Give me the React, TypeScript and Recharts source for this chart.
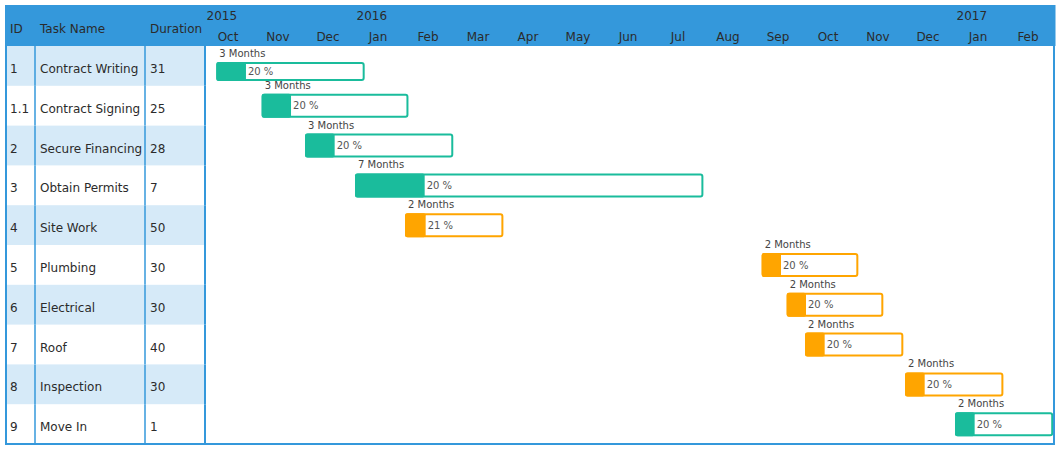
import React from 'react';
import { BarChart, Bar, XAxis, YAxis } from 'recharts';

// table columns
const taskIds = ['1', '1.1', '2', '3', '4', '5', '6', '7', '8', '9'];
const taskNames = [
  'Contract Writing', 'Contract Signing', 'Secure Financing', 'Obtain Permits', 'Site Work',
  'Plumbing', 'Electrical', 'Roof', 'Inspection', 'Move In',
];
const durations = [31, 25, 28, 7, 50, 30, 30, 40, 30, 1];

// timeline
const startDates = [
  '2015-10-08', '2015-11-05', '2015-12-01', '2016-01-01', '2016-02-01',
  '2016-09-05', '2016-09-20', '2016-10-01', '2016-12-01', '2017-01-01',
];
const endDates = [
  '2016-01-07', '2016-02-03', '2016-02-29', '2016-07-31', '2016-03-31',
  '2016-11-03', '2016-11-18', '2016-11-30', '2017-01-31', '2017-02-28',
];
const progress = [20, 20, 20, 20, 21, 20, 20, 20, 20, 20];
const spanMonths = [3, 3, 3, 7, 2, 2, 2, 2, 2, 2];
const phases = ['office', 'office', 'office', 'office', 'site', 'site', 'site', 'site', 'site', 'office'];

const monthLabels = ['Oct', 'Nov', 'Dec', 'Jan', 'Feb', 'Mar', 'Apr', 'May', 'Jun', 'Jul', 'Aug', 'Sep', 'Oct', 'Nov', 'Dec', 'Jan', 'Feb'];
const yearLabels = ['2015', '2016', '2017'];
const yearStartMonth = [0, 3, 15];
const columnHeaders = ['ID', 'Task Name', 'Duration'];

// timeline starts at October 2015
const ORIGIN_YEAR = 2015;
const ORIGIN_MONTH = 10;

const toMonths = (s: string) => {
  const [y, m, d] = s.split('-').map(Number);
  const dim = new Date(Date.UTC(y, m, 0)).getUTCDate();
  return (y - ORIGIN_YEAR) * 12 + (m - ORIGIN_MONTH) + (d - 1) / dim;
};

const rows = taskIds.map((id, i) => ({
  id,
  name: taskNames[i],
  duration: durations[i],
  span: [toMonths(startDates[i]), toMonths(endDates[i])],
  progress: progress[i],
  months: spanMonths[i],
  phase: phases[i],
}));

// layout / style
const W = 1060;
const H = 450;
const M = { top: 6, right: 5, bottom: 6, left: 6 };
const Y_AXIS_W = 199;
const X_AXIS_H = 40;
const PLOT_W = W - M.left - M.right - Y_AXIS_W;
const PLOT_H = H - M.top - M.bottom - X_AXIS_H;
const TABLE_LEFT = M.left;
const TABLE_RIGHT = M.left + Y_AXIS_W;
const HEADER_TOP = 5;
const HEADER_BOTTOM = M.top + X_AXIS_H;
const COL_TEXT_X = [10, 40, 150];
const COL_LINE_X = [35, 145];
const LABEL_GAP = 5; // baseline of "N Months" above the bar
const LABEL_H = 11;

const BLUE = '#3498db';
const STRIPE = '#d6eaf8';
const TEXT = '#2b2b2b';
const FONT = "'DejaVu Sans', Verdana, sans-serif";
const PHASE_COLORS: Record<string, string> = { office: '#1abc9c', site: '#ffa500' };

function TableTick(props: any) {
  const { y, index } = props;
  const band = PLOT_H / taskIds.length;
  const top = y - band / 2;
  const row = rows[index];
  return (
    <g>
      {index === 0 && (
        <g>
          <rect x={TABLE_LEFT - 1} y={HEADER_TOP} width={Y_AXIS_W + 1} height={HEADER_BOTTOM - HEADER_TOP} fill={BLUE} />
          {columnHeaders.map((h, c) => (
            <text key={h} x={COL_TEXT_X[c]} y={33} fontSize={12} fill={TEXT} fontFamily={FONT}>{h}</text>
          ))}
        </g>
      )}
      {index % 2 === 0 && <rect x={TABLE_LEFT + 1} y={top} width={Y_AXIS_W - 2} height={band} fill={STRIPE} />}
      {COL_LINE_X.map((lx) => (
        <line key={lx} x1={lx} x2={lx} y1={top} y2={top + band} stroke={BLUE} strokeWidth={1.5} />
      ))}
      <line x1={TABLE_RIGHT} x2={TABLE_RIGHT} y1={top} y2={top + band} stroke={BLUE} strokeWidth={2} />
      <text x={COL_TEXT_X[0]} y={y + 7} fontSize={12} fill={TEXT} fontFamily={FONT}>{row.id}</text>
      <text x={COL_TEXT_X[1]} y={y + 7} fontSize={12} fill={TEXT} fontFamily={FONT}>{row.name}</text>
      <text x={COL_TEXT_X[2]} y={y + 7} fontSize={12} fill={TEXT} fontFamily={FONT}>{row.duration}</text>
    </g>
  );
}

function MonthTick(props: any) {
  const { x, index } = props;
  const cellW = PLOT_W / monthLabels.length;
  const left = x - cellW / 2;
  const yi = yearStartMonth.indexOf(index);
  return (
    <g>
      <rect x={left} y={HEADER_TOP} width={cellW + 0.5} height={HEADER_BOTTOM - HEADER_TOP} fill={BLUE} />
      {yi >= 0 && (
        <text x={left + 1.5} y={20} fontSize={12} fill={TEXT} fontFamily={FONT}>{yearLabels[yi]}</text>
      )}
      <text x={x - 2} y={41} fontSize={12} fill={TEXT} fontFamily={FONT} textAnchor="middle">{monthLabels[index]}</text>
    </g>
  );
}

function GanttBar(props: any) {
  const { x, width, payload } = props;
  let { y, height } = props;
  // keep the "N Months" label clear of the header: push the bar down and shrink it
  const minTop = HEADER_BOTTOM + LABEL_H + LABEL_GAP;
  if (y < minTop) {
    const bottom = y + height + 3;
    y = minTop;
    height = Math.max(18, bottom - y);
  }
  const color = PHASE_COLORS[payload.phase];
  const doneW = (width * payload.progress) / 100;
  return (
    <g>
      <text x={x + 3} y={y - LABEL_GAP} fontSize={10} fill="#444" fontFamily={FONT}>{payload.months} Months</text>
      <rect x={x + 1} y={y + 1} width={width - 2} height={height - 2} rx={2} fill="#fff" stroke={color} strokeWidth={2} />
      <rect x={x} y={y} width={doneW} height={height} rx={2} fill={color} />
      <text x={x + doneW + 2} y={y + height / 2 + 3.5} fontSize={10} fill="#555" fontFamily={FONT}>{payload.progress} %</text>
    </g>
  );
}

export default function App() {
  const monthTicks = monthLabels.map((_, i) => i + 0.5);
  return (
    <div style={{ position: 'absolute', left: 0, top: 0, width: W, height: H, background: '#fff', fontFamily: FONT }}>
      <BarChart width={W} height={H} data={rows} layout="vertical" margin={M}>
        <XAxis
          type="number"
          orientation="top"
          domain={[0, monthLabels.length]}
          ticks={monthTicks}
          interval={0}
          height={X_AXIS_H}
          axisLine={false}
          tickLine={false}
          tickSize={0}
          tickMargin={0}
          tick={(p: any) => <MonthTick {...p} />}
        />
        <YAxis
          type="category"
          dataKey="id"
          width={Y_AXIS_W}
          interval={0}
          axisLine={false}
          tickLine={false}
          tickSize={0}
          tickMargin={0}
          tick={(p: any) => <TableTick {...p} />}
        />
        <Bar dataKey="span" barSize={24} isAnimationActive={false} shape={(p: any) => <GanttBar {...p} />} />
      </BarChart>
      <div
        style={{
          position: 'absolute', left: 5, top: 5, width: 1050, height: 440,
          border: `2px solid ${BLUE}`, boxSizing: 'border-box', pointerEvents: 'none',
        }}
      />
    </div>
  );
}
